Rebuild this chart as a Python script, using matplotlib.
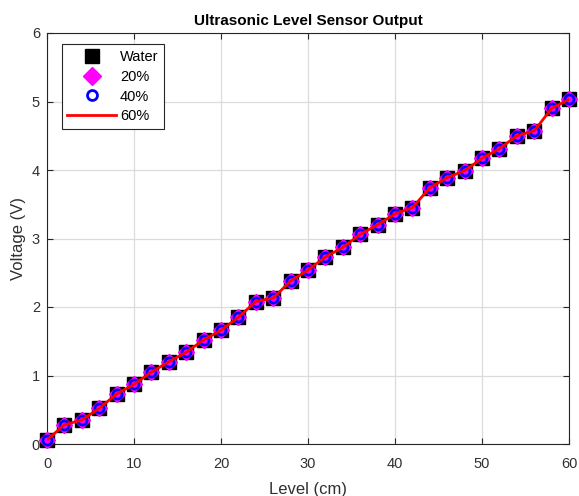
import matplotlib.pyplot as plt

plt.rcParams['font.family'] = ['Liberation Sans', 'DejaVu Sans']

# level readings in cm, one every 2 cm
level = list(range(0, 61, 2))

# sensor voltage for each liquid
water = [0.06, 0.28, 0.35, 0.52, 0.73, 0.87, 1.05, 1.20, 1.34, 1.52, 1.66,
         1.85, 2.08, 2.13, 2.38, 2.54, 2.73, 2.87, 3.06, 3.20, 3.36, 3.45,
         3.74, 3.89, 3.99, 4.17, 4.31, 4.50, 4.57, 4.90, 5.03]
pct20 = [0.06, 0.28, 0.35, 0.52, 0.73, 0.87, 1.05, 1.20, 1.34, 1.52, 1.66,
         1.85, 2.08, 2.13, 2.38, 2.54, 2.73, 2.87, 3.06, 3.20, 3.36, 3.45,
         3.74, 3.89, 3.99, 4.17, 4.31, 4.50, 4.57, 4.90, 5.03]
pct40 = [0.06, 0.28, 0.35, 0.52, 0.73, 0.87, 1.05, 1.20, 1.34, 1.52, 1.66,
         1.85, 2.08, 2.13, 2.38, 2.54, 2.73, 2.87, 3.06, 3.20, 3.36, 3.45,
         3.74, 3.89, 3.99, 4.17, 4.31, 4.50, 4.57, 4.90, 5.03]
pct60 = [0.06, 0.28, 0.35, 0.52, 0.73, 0.87, 1.05, 1.20, 1.34, 1.52, 1.66,
         1.85, 2.08, 2.13, 2.38, 2.54, 2.73, 2.87, 3.06, 3.20, 3.36, 3.45,
         3.74, 3.89, 3.99, 4.17, 4.31, 4.50, 4.57, 4.90, 5.03]

fig = plt.figure(figsize=(5.79, 4.96), dpi=100)
ax = fig.add_axes([47 / 579, 1 - 444 / 496, 522 / 579, 411 / 496])

ax.plot(level, water, 's', color='black', markersize=9.5, label='Water',
        zorder=3, clip_on=False)
ax.plot(level, pct20, 'D', color='#ff00ff', markersize=8.5, label='20%',
        zorder=4, clip_on=False)
ax.plot(level, pct40, 'o', color='blue', markerfacecolor='none',
        markersize=6.5, markeredgewidth=2, label='40%', zorder=5, clip_on=False)
ax.plot(level, pct60, '-', color='red', linewidth=2, label='60%', zorder=6)

ax.set_xlim(0, 60)
ax.set_ylim(0, 6)
ax.set_xticks(range(0, 61, 10))
ax.set_yticks(range(0, 7))
ax.grid(True, color='#dcdcdc', linewidth=0.9)
ax.set_axisbelow(True)
ax.tick_params(direction='in', top=True, right=True, labelsize=10.5,
               labelcolor='#303030', color='#262626', length=4)
ax.tick_params(axis='x', pad=9)
ax.tick_params(axis='y', pad=5)
for s in ax.spines.values():
    s.set_color('#262626')
    s.set_linewidth(0.8)

ax.set_xlabel('Level (cm)', fontsize=12, color='#303030', labelpad=8)
ax.set_ylabel('Voltage (V)', fontsize=12, color='#303030', labelpad=4)
ax.set_title('Ultrasonic Level Sensor Output', fontsize=11, fontweight='bold',
             pad=6)

leg = ax.legend(loc='upper left', bbox_to_anchor=(0.028, 0.973),
                borderaxespad=0, fontsize=10.5, fancybox=False, framealpha=1,
                edgecolor='#262626', handlelength=3.3, borderpad=0.4,
                labelspacing=0.4, handletextpad=0.3, markerscale=1.1)
leg.get_frame().set_linewidth(0.8)

fig.savefig('out.png', dpi=100)
